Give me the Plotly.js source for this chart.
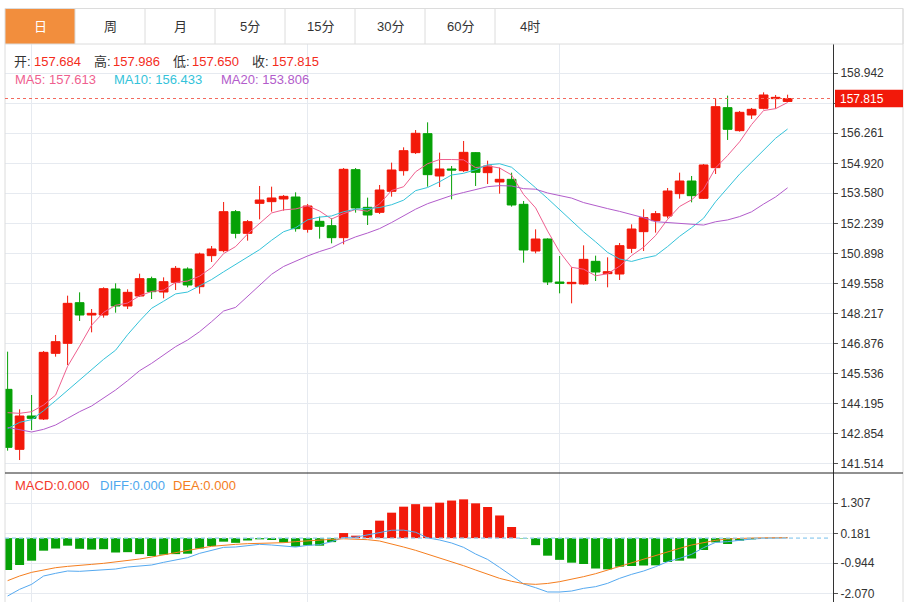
<!DOCTYPE html>
<html><head><meta charset="utf-8">
<script src="https://cdn.plot.ly/plotly-3.0.1.min.js"></script>
<style>html,body{margin:0;padding:0;background:#fff;}#chart{width:908px;height:602px;}</style>
</head><body><div id="chart"></div>
<script>
// ---------- data ----------
const tabs = ['日','周','月','5分','15分','30分','60分','4时'];
const open = [144.819,142.138,143.628,143.494,146.428,146.875,148.692,148.141,148.141,149.303,
  148.543,148.990,149.765,149.169,149.601,150.197,149.407,150.793,151.016,152.759,
  151.791,153.131,153.206,153.325,153.414,151.969,152.327,152.133,151.597,154.636,
  152.953,152.729,153.668,154.591,155.396,156.245,154.353,154.666,154.591,155.396,
  154.502,154.085,154.204,153.087,151.001,151.537,149.616,149.541,149.527,150.539,
  149.988,149.973,151.120,151.865,152.357,152.565,153.563,154.129,153.355,154.725,
  157.407,156.379,157.079,157.377,157.809,157.684];
const high = [146.503,143.926,144.566,146.532,147.247,149.005,149.154,148.409,149.378,149.556,
  149.288,149.988,149.854,149.824,150.331,150.271,150.927,151.225,153.191,152.833,
  152.387,153.906,153.876,153.504,153.623,153.102,152.536,152.461,154.710,154.710,
  153.385,153.951,154.949,155.634,156.408,156.751,155.396,154.800,155.917,155.425,
  155.038,154.725,154.502,153.236,151.969,151.567,150.778,150.271,151.254,150.793,
  150.718,151.359,152.193,152.863,152.789,153.817,154.502,154.353,154.889,157.824,
  157.943,157.258,157.392,158.092,157.973,157.986];
const low = [142.079,141.661,143.002,143.449,146.279,145.907,147.873,147.367,148.022,148.245,
  148.409,148.960,148.856,148.886,149.258,149.378,149.095,150.510,150.942,151.567,
  151.463,152.416,152.759,152.804,151.865,151.821,151.552,151.344,151.299,152.714,
  152.163,152.655,153.429,154.368,155.336,153.876,153.861,153.310,154.532,153.906,
  153.995,153.563,152.982,150.480,150.897,149.482,149.109,148.663,149.497,149.661,
  149.378,149.705,150.912,151.001,151.821,152.461,153.340,153.176,153.325,154.442,
  155.962,156.334,156.900,157.332,157.362,157.650];
const close = [142.227,143.628,143.523,146.473,146.950,148.663,148.141,148.216,149.318,148.543,
  149.154,149.765,149.184,149.631,150.227,149.482,150.867,151.091,152.759,151.791,
  152.312,153.280,153.370,153.444,151.999,153.012,152.104,151.597,154.651,152.923,
  152.610,153.727,154.621,155.485,156.260,154.412,154.666,154.621,155.410,154.517,
  154.800,154.204,153.057,151.046,151.537,149.616,149.556,149.601,150.629,150.063,
  150.078,151.240,151.984,152.491,152.670,153.682,154.129,153.474,154.845,157.451,
  156.438,157.198,157.332,157.973,157.868,157.815];
// moving-average values before enough candles are on screen
const ma5Start = [143.777,143.747,143.821,144.119];
const ma10Start = [143.062,143.345,143.464,143.866,144.313,144.774,145.236,145.713,146.160];
const ma20Start = [143.121,143.002,142.913,143.032,143.226,143.524,143.821,144.075,144.417,144.790,
  145.207,145.654,145.981,146.354,146.726,147.024,147.396,147.843,148.320];
const maLegend = [157.613,156.433,153.806];
const macd = [-1.196,-1.008,-0.846,-0.471,-0.390,-0.283,-0.400,-0.430,-0.415,-0.540,
  -0.527,-0.600,-0.671,-0.620,-0.600,-0.585,-0.390,-0.295,-0.133,-0.177,
  -0.089,-0.045,-0.070,-0.164,-0.320,-0.270,-0.283,-0.150,0.190,0.092,
  0.305,0.655,0.955,1.180,1.274,1.180,1.330,1.410,1.455,1.305,
  1.168,0.850,0.417,-0.015,-0.264,-0.658,-0.815,-0.921,-0.971,-1.140,
  -1.171,-1.071,-1.046,-1.027,-1.021,-0.895,-0.846,-0.765,-0.446,-0.158,
  -0.221,-0.095,-0.045,-0.008,-0.003,0.000];
const diff = [-2.171,-1.921,-1.734,-1.421,-1.321,-1.233,-1.246,-1.221,-1.171,-1.159,
  -1.084,-1.034,-1.008,-0.908,-0.821,-0.733,-0.571,-0.458,-0.346,-0.333,
  -0.283,-0.233,-0.258,-0.296,-0.333,-0.271,-0.246,-0.133,0.020,0.035,
  0.125,0.225,0.295,0.300,0.220,0.010,-0.070,-0.183,-0.346,-0.596,
  -0.800,-1.100,-1.410,-1.720,-1.859,-2.020,-2.021,-1.984,-1.884,-1.821,
  -1.696,-1.509,-1.359,-1.234,-1.071,-0.883,-0.758,-0.608,-0.358,-0.158,
  -0.133,-0.070,-0.033,-0.008,0.004,0.010];
const dea = [-1.596,-1.421,-1.284,-1.184,-1.109,-1.059,-1.034,-0.984,-0.946,-0.896,
  -0.858,-0.783,-0.708,-0.621,-0.533,-0.446,-0.383,-0.308,-0.258,-0.233,
  -0.208,-0.196,-0.196,-0.171,-0.133,-0.096,-0.070,-0.045,-0.025,-0.033,
  -0.058,-0.108,-0.208,-0.333,-0.458,-0.596,-0.733,-0.883,-1.034,-1.196,
  -1.359,-1.509,-1.620,-1.709,-1.734,-1.700,-1.634,-1.546,-1.446,-1.334,
  -1.196,-1.046,-0.908,-0.771,-0.633,-0.508,-0.383,-0.258,-0.158,-0.083,
  -0.033,-0.008,0.004,0.012,0.015,0.015];
const macdLegend = [0,0,0];
const priceTicks = [141.514,142.854,144.195,145.536,146.876,148.217,149.558,150.898,152.239,153.580,154.920,156.261,157.602,158.942];
const hiddenTick = 157.602; // its label sits under the last-price tag
const macdTicks = [1.307,0.181,-0.944,-2.070];
const monthStarts = [1.95,24.95,45.95];

// ---------- styling ----------
const RED = '#f2190a', GREEN = '#06a106', GRID = '#e6eaf0';
const C_MA = ['#ef5f8f','#35c3da','#b25ccb'];
const FONT = 'Liberation Sans, Arial, "Noto Sans CJK SC", sans-serif';
const L = 5, R = 833, T = 44, B = 602;
const px = x => (x - L) / (R - L);
const py = y => (B - y) / (B - T);

const idx = close.map((_, i) => i);
function ma(n, start) {
  return close.map((c, i) => {
    if (i < n - 1) return start[i];
    let s = 0; for (let k = i - n + 1; k <= i; k++) s += close[k];
    return s / n;
  });
}
const ma5 = ma(5, ma5Start), ma10 = ma(10, ma10Start), ma20 = ma(20, ma20Start);
const last = close.length - 1;

const traces = [
  {type:'candlestick', x: idx, open, high, low, close, xaxis:'x', yaxis:'y',
   increasing:{line:{color:RED,width:1}, fillcolor:RED},
   decreasing:{line:{color:GREEN,width:1}, fillcolor:GREEN},
   whiskerwidth:0, hoverinfo:'skip'},
  {type:'scatter', mode:'lines', x: idx, y: ma5, line:{color:C_MA[0], width:1}, yaxis:'y', hoverinfo:'skip'},
  {type:'scatter', mode:'lines', x: idx, y: ma10, line:{color:C_MA[1], width:1}, yaxis:'y', hoverinfo:'skip'},
  {type:'scatter', mode:'lines', x: idx, y: ma20, line:{color:C_MA[2], width:1}, yaxis:'y', hoverinfo:'skip'},
  {type:'bar', x: idx, y: macd, width:0.75, yaxis:'y2', xaxis:'x',
   marker:{color: macd.map(v => v > 0 ? RED : GREEN), line:{width:0}}, hoverinfo:'skip'},
  {type:'scatter', mode:'lines', x: idx, y: diff, line:{color:'#55a9f0', width:1}, yaxis:'y2', hoverinfo:'skip'},
  {type:'scatter', mode:'lines', x: idx, y: dea, line:{color:'#f57e1f', width:1}, yaxis:'y2', hoverinfo:'skip'}
];

const shapes = [];
const ann = [];
// tab bar
shapes.push({type:'rect', xref:'paper', yref:'paper', x0:px(5), x1:px(75), y0:py(44), y1:py(8.5), fillcolor:'#f28e3d', line:{width:0}});
shapes.push({type:'rect', xref:'paper', yref:'paper', x0:px(5), x1:px(903), y0:py(44), y1:py(8.5), line:{color:'#dcdcdc', width:1}});
tabs.forEach((t, k) => {
  if (k > 0) shapes.push({type:'line', xref:'paper', yref:'paper', x0:px(5+70*k), x1:px(5+70*k), y0:py(44), y1:py(8.5), line:{color:'#dcdcdc', width:1}});
  ann.push({text:t, xref:'paper', yref:'paper', x:px(40+70*k), y:py(26.5), xanchor:'center', yanchor:'middle', showarrow:false,
    font:{family:FONT, size:13, color: k === 0 ? '#ffffff' : '#333333'}, borderpad:0, borderwidth:0});
});
shapes.push({type:'line', xref:'paper', yref:'paper', x0:px(903), x1:px(903), y0:py(602), y1:py(8.5), line:{color:'#dcdcdc', width:1}});
shapes.push({type:'line', xref:'paper', yref:'paper', x0:px(5), x1:px(5), y0:py(602), y1:py(44), line:{color:'#dcdcdc', width:1}});
// panel separator
shapes.push({type:'line', xref:'paper', yref:'paper', x0:px(5), x1:px(903), y0:py(473), y1:py(473), line:{color:'#222', width:1}});
// last price line + tag
shapes.push({type:'line', xref:'paper', yref:'y', x0:0, x1:1, y0:close[last], y1:close[last], line:{color:'#f36a5e', width:1, dash:'dot'}});
shapes.push({type:'rect', xref:'paper', yref:'y', ysizemode:'pixel', yanchor:close[last], y0:-8.7, y1:8.7,
  x0:px(835), x1:px(903), fillcolor:RED, line:{width:0}});
ann.push({text:close[last].toFixed(3), xref:'paper', yref:'y', x:px(840.5), y:close[last], xanchor:'left', yanchor:'middle',
  showarrow:false, font:{family:FONT, size:12, color:'#ffffff'}, borderpad:0, borderwidth:0});
// macd zero line
shapes.push({type:'line', xref:'paper', yref:'y2', x0:0, x1:px(830), y0:0, y1:0, line:{color:'rgba(150,205,240,0.75)', width:1.6, dash:'4px,3px'}});

// header rows
const ohlcLabels = ['开:','高:','低:','收:'];
const ohlcVals = [open[last], high[last], low[last], close[last]];
const ohlcX = [14.3, 93.6, 172.5, 252];
ohlcLabels.forEach((lb, k) => {
  ann.push({text:lb, xref:'paper', yref:'paper', x:px(ohlcX[k]), y:py(61), xanchor:'left', yanchor:'middle', showarrow:false,
    font:{family:FONT, size:13, color:'#333'}, borderpad:0, borderwidth:0});
  ann.push({text:ohlcVals[k].toFixed(3), xref:'paper', yref:'paper', x:px(ohlcX[k]+19.7), y:py(61), xanchor:'left', yanchor:'middle', showarrow:false,
    font:{family:FONT, size:13, color:'#f42c1c'}, borderpad:0, borderwidth:0});
});
const maNames = ['MA5','MA10','MA20'], maX = [15, 114, 221];
maNames.forEach((n, k) => ann.push({text:n + ': ' + maLegend[k].toFixed(3), xref:'paper', yref:'paper', x:px(maX[k]), y:py(79),
  xanchor:'left', yanchor:'middle', showarrow:false, font:{family:FONT, size:13, color:C_MA[k]}, borderpad:0, borderwidth:0}));
const macdNames = ['MACD','DIFF','DEA'], macdX = [15, 100, 173.3], macdCol = ['#f3392b','#4ea7ee','#f47d21'];
macdNames.forEach((n, k) => ann.push({text:n + ':' + macdLegend[k].toFixed(3), xref:'paper', yref:'paper', x:px(macdX[k]), y:py(485),
  xanchor:'left', yanchor:'middle', showarrow:false, font:{family:FONT, size:13, color:macdCol[k]}, borderpad:0, borderwidth:0}));

const yStyle = {side:'right', showgrid:true, gridcolor:GRID, gridwidth:1, zeroline:false, showline:true, linecolor:'#333', linewidth:1,
  ticks:'outside', ticklen:4, tickcolor:'#555', tickfont:{family:FONT, size:12, color:'#333'}, fixedrange:true};

const layout = {
  width:908, height:602, margin:{l:L, r:908-R, t:T, b:0, pad:0},
  paper_bgcolor:'#fff', plot_bgcolor:'#fff', showlegend:false,
  boxgap:0.27, boxgroupgap:0, hovermode:false,
  xaxis:{range:[-0.2167, 68.783], tickvals:monthStarts, showticklabels:false, ticks:'', showgrid:true, gridcolor:GRID, gridwidth:1,
    zeroline:false, showline:false, rangeslider:{visible:false}, anchor:'y2', fixedrange:true},
  yaxis:Object.assign({domain:[0.23118, 1], range:[141.081, 160.251], tickvals:priceTicks,
    ticktext:priceTicks.map(v => v === hiddenTick ? '' : v.toFixed(3)), anchor:'x'}, yStyle),
  yaxis2:Object.assign({domain:[0, 0.23118], range:[-2.396, 2.443], tickvals:macdTicks, ticktext:macdTicks.map(v => v.toFixed(3)), anchor:'x'}, yStyle),
  shapes, annotations:ann
};
Plotly.newPlot('chart', traces, layout, {displayModeBar:false, staticPlot:true});
</script></body></html>
